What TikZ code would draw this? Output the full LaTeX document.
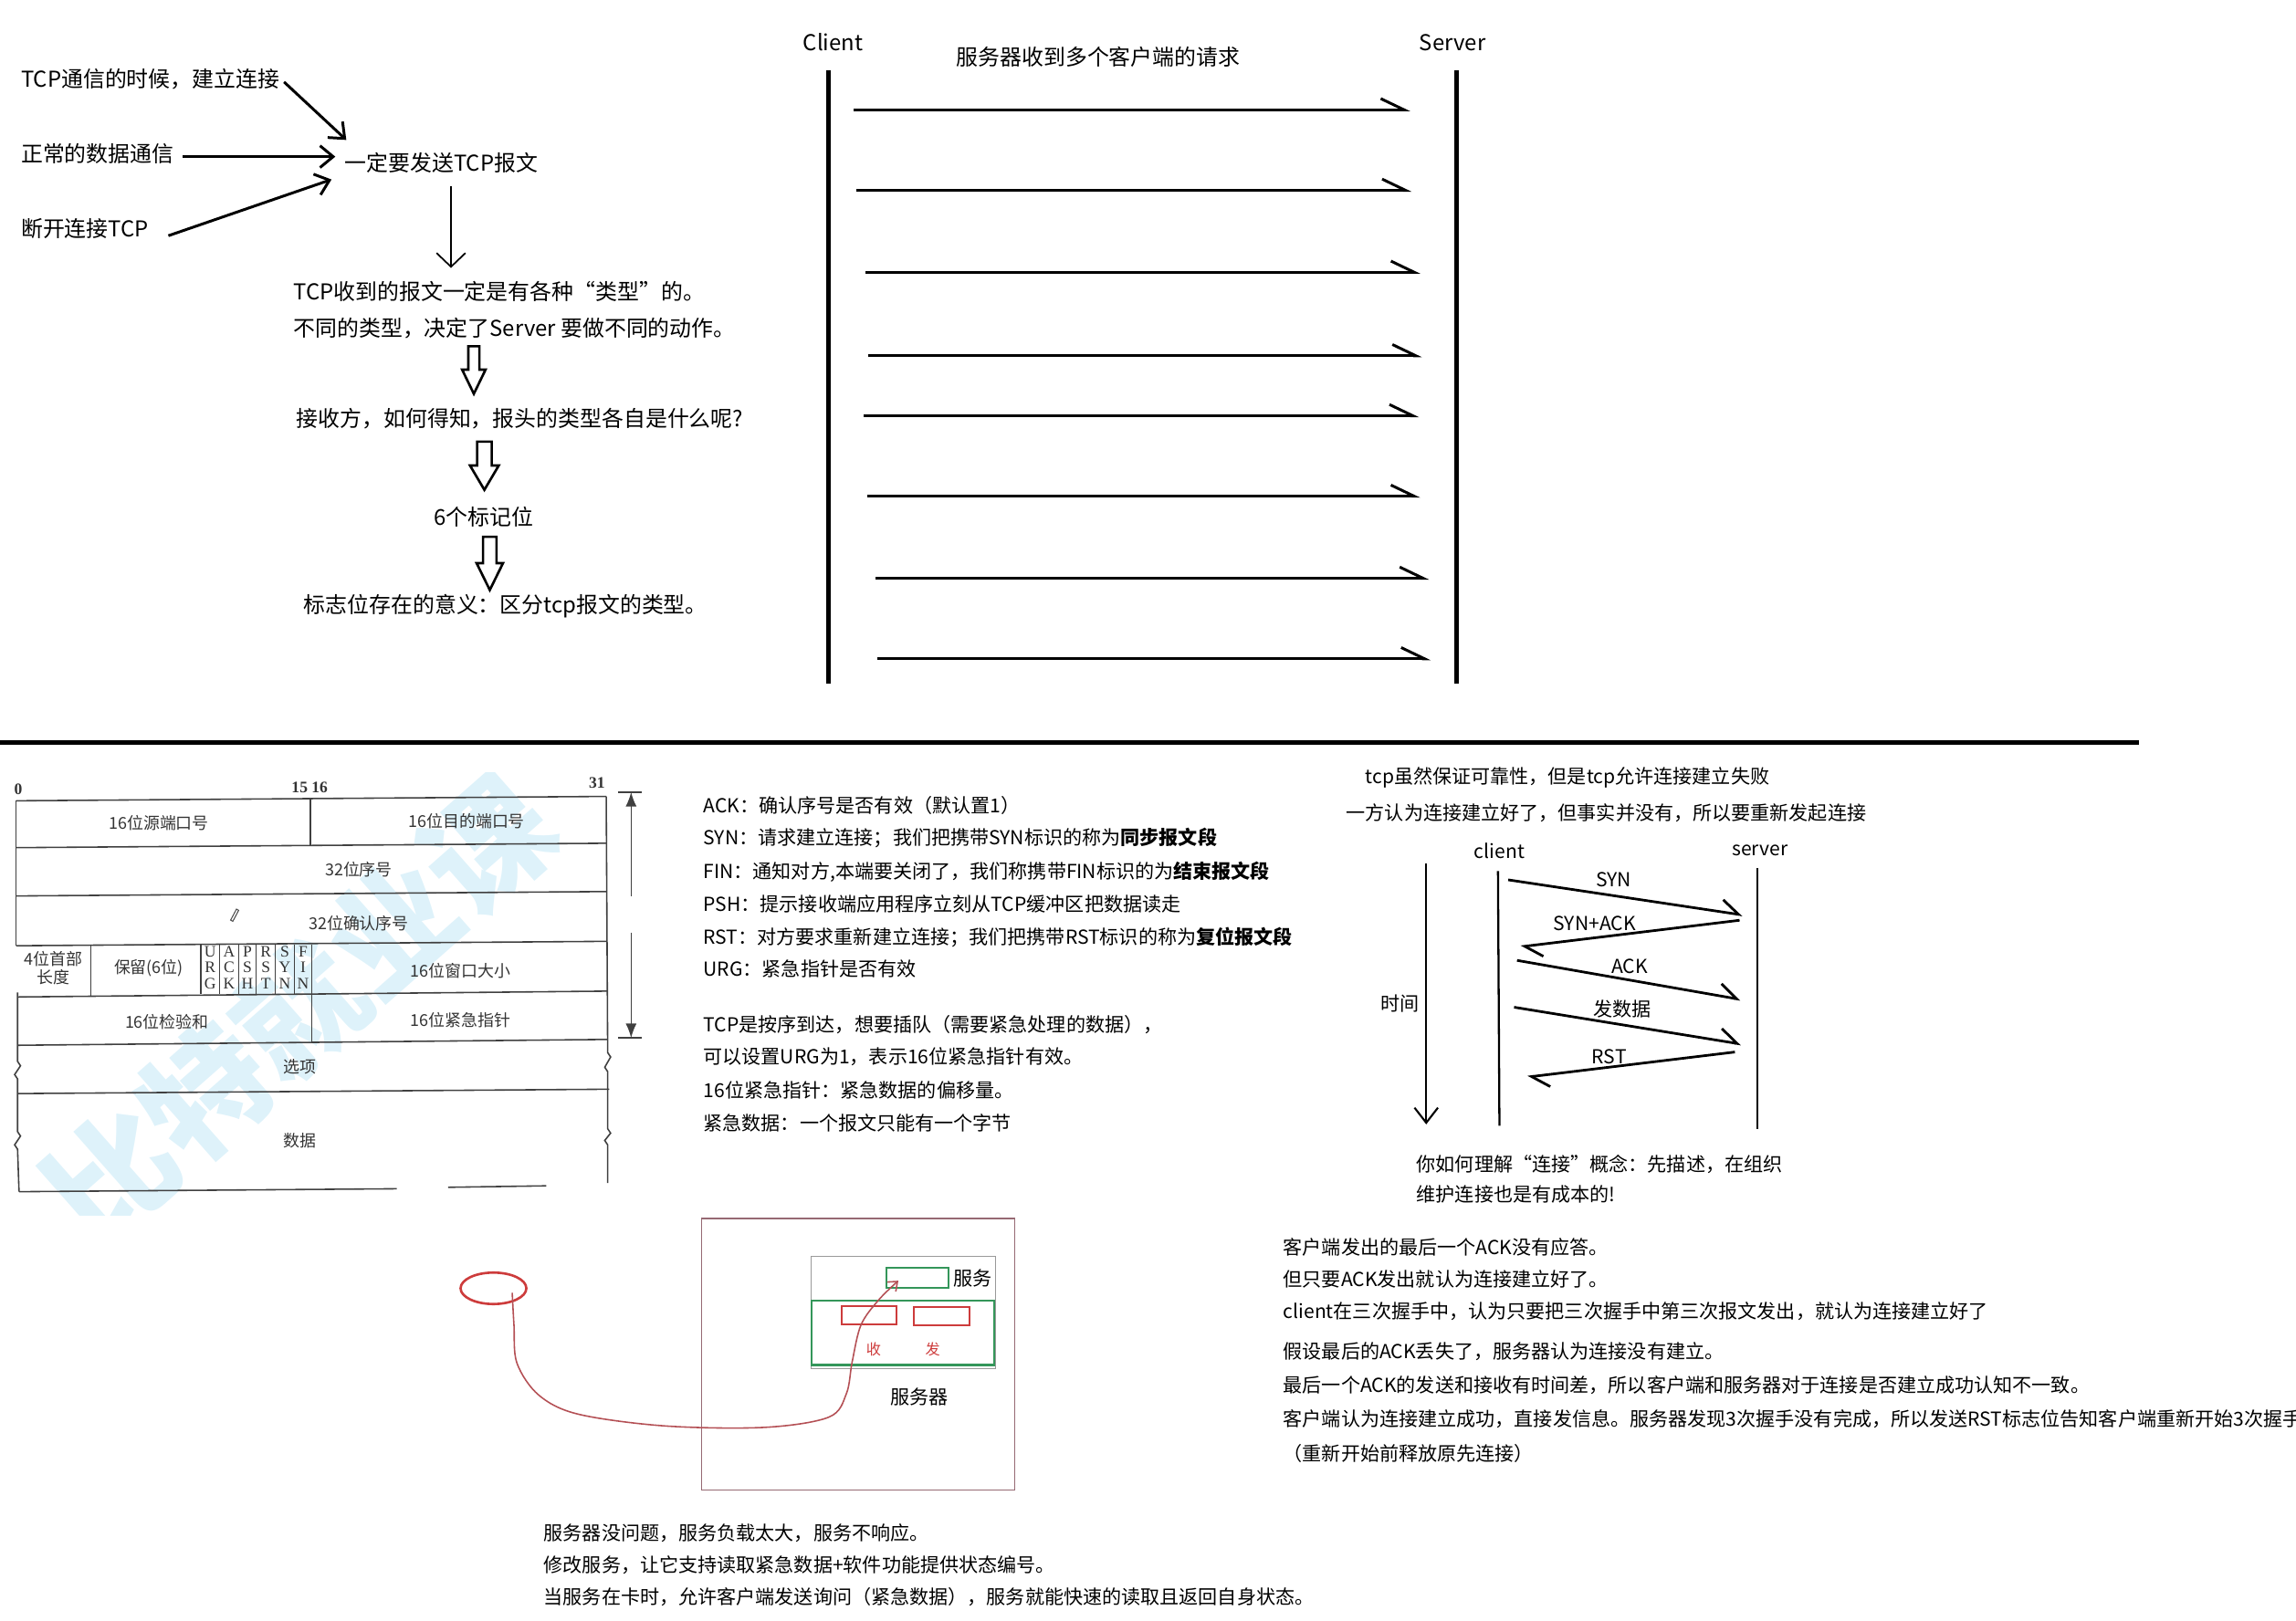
\documentclass[tikz,border=0pt]{standalone}
\usepackage{fontspec}
\setmainfont{Noto Sans CJK SC}
\newfontfamily\serifl{Liberation Serif}
\usetikzlibrary{arrows.meta,shapes.geometric}
\definecolor{wm}{RGB}{222,242,250}
\definecolor{gr}{RGB}{52,150,90}
\definecolor{rd}{RGB}{205,60,60}
\definecolor{crv}{RGB}{180,80,85}
\definecolor{boxc}{RGB}{150,105,115}
\begin{document}
\begin{tikzpicture}[x=0.01604cm,y=-0.01604cm,
  tA/.style={inner sep=0pt,anchor=west,font=\fontsize{6.8}{8}\selectfont},
  tB/.style={inner sep=0pt,anchor=west,font=\fontsize{6}{7}\selectfont},
  tbl/.style={inner sep=0pt,font=\fontsize{5.1}{6.2}\selectfont,text=black!80},
  flg/.style={inner sep=0pt,font=\serifl\fontsize{5}{5}\selectfont,text=black!80},
  tline/.style={line width=0.45pt,draw=black!75},
  bigarr/.style={line width=0.85pt,-{Straight Barb[length=4.1pt,width=6.8pt]}},
  seqarr/.style={line width=0.85pt,-{Straight Barb[left,length=7.3pt,width=7pt]}},
  hsarr/.style={line width=0.8pt,-{Straight Barb[left,length=5.4pt,width=7.6pt]}},
  hol/.style={line width=0.75pt,line join=miter}]
\useasboundingbox (0,0) rectangle (1568,1107);

% ---------------- top left flow ----------------
\node[tA] (n1) at (14,54) {TCP通信的时候，建立连接};
\node[tA] (n2) at (14,105) {正常的数据通信};
\node[tA] (n3) at (14,156) {断开连接TCP};
\node[tA] (n4) at (235,111) {一定要发送TCP报文};
\coordinate (a1s) at (194,56);  \coordinate (a1e) at (236.5,95.6);
\coordinate (a2s) at (125,107); \coordinate (a2e) at (229,107);
\coordinate (a3s) at (115,161); \coordinate (a3e) at (226.4,122.6);
\draw[bigarr] (a1s) -- (a1e);
\draw[bigarr] (a2s) -- (a2e);
\draw[bigarr] (a3s) -- (a3e);
\coordinate (d1s) at (308,127); \coordinate (d1e) at (308,183);
\draw[line width=0.5pt,-{Straight Barb[length=4.3pt,width=9pt]}] (d1s) -- (d1e);
\node[tA] (n5) at (200,199) {TCP收到的报文一定是有各种“类型”的。};
\node[tA] (n6) at (200,224) {不同的类型，决定了Server 要做不同的动作。};
\node[tA] (n7) at (202,286) {接收方，如何得知，报头的类型各自是什么呢?};
\node[tA] (n8) at (296,353) {6个标记位};
\node[tA] (n9) at (207,414) {标志位存在的意义：区分tcp报文的类型。};
\draw[hol] (319.8,236.5) -- (319.8,252.5) -- (315.6,252.5) -- (323.6,269) -- (331.6,252.5) -- (327.4,252.5) -- (327.4,236.5) -- cycle;
\draw[hol] (325.8,301.7) -- (325.8,318) -- (321,318) -- (330.8,334.6) -- (340.6,318) -- (335.8,318) -- (335.8,301.7) -- cycle;
\draw[hol] (329.9,366.7) -- (329.9,384.7) -- (325.5,384.7) -- (334.5,403) -- (343.5,384.7) -- (339.1,384.7) -- (339.1,366.7) -- cycle;

% ---------------- top middle sequence ----------------
\node[tA,anchor=center] (cl) at (569,29) {Client};
\node[tA,anchor=center] (sv) at (992,29) {Server};
\node[tA,anchor=center] (ttl) at (750,39) {服务器收到多个客户端的请求};
\coordinate (clt) at (566,48); \coordinate (clb) at (566,467);
\coordinate (svt) at (995,48); \coordinate (svb) at (995,467);
\draw[line width=1.4pt] (clt) -- (clb);
\draw[line width=1.4pt] (svt) -- (svb);
\foreach \i/\xa/\xb/\yy in {1/583/963/75,2/585/964/130,3/591/970/186,4/593/971/243,5/590/969/284,6/592/970/339,7/598/976/395,8/599/977/450}{
  \coordinate (q\i s) at (\xa,\yy);
  \coordinate (q\i e) at (\xb,\yy);
  \draw[seqarr] (q\i s) -- (q\i e);
}

% separator
\coordinate (sepL) at (0,507); \coordinate (sepR) at (1461,507);
\draw[line width=1.35pt] (sepL) -- (sepR);

% ---------------- TCP header table ----------------
\begin{scope}
\clip (0,528) rectangle (440,830);
\node[wm,font=\bfseries\fontsize{39}{39}\selectfont,rotate=41.4,inner sep=0pt] (wmk) at (204.5,690) {比特就业课};
\end{scope}
\node[flg,font=\serifl\bfseries\fontsize{5}{5}\selectfont] (c0) at (12.5,539.3) {0};
\node[flg,font=\serifl\bfseries\fontsize{5}{5}\selectfont] (c15) at (211.5,538) {15 16};
\node[flg,font=\serifl\bfseries\fontsize{5}{5}\selectfont] (c31) at (407.7,534.5) {31};
\draw[tline] (11,547) -- (414,544);
\draw[tline] (11,579) -- (414,576);
\draw[tline] (11,612) -- (414,609);
\draw[tline] (11,646) -- (414,643);
\draw[tline] (12,681) -- (415,677);
\draw[tline] (12,714) -- (415,710);
\draw[tline] (12,747) -- (416,744);
\draw[tline] (13,814) -- (271,812);
\draw[tline] (306,811) -- (373,810);
\draw[tline] (11,547) -- (11,646);
\draw[tline] (12,678) -- (12,725) -- (14,728) -- (10,734) -- (12,737) -- (12,773) -- (14,776) -- (10,782) -- (12,785) -- (13,814);
\draw[tline] (414,544) -- (415,719) -- (417,722) -- (413,729) -- (415,732) -- (415,771) -- (417,774) -- (413,779) -- (415,782) -- (415,808);
\draw[tline] (212,546) -- (212,578);
\draw[tline] (62,645) -- (62,680);
\foreach \x in {137,150,163,175,188,201,213} \draw[tline] (\x,645) -- (\x,679);
\draw[tline] (213,679) -- (213,712);
\node[tbl] (f1) at (108.5,562) {16位源端口号};
\node[tbl] (f2) at (318.7,561) {16位目的端口号};
\node[tbl] (f3) at (245,594) {32位序号};
\node[tbl] (f4) at (245,630.5) {32位确认序号};
\node[tbl] (f5a) at (36.2,655.3) {4位首部};
\node[tbl] (f5b) at (36.2,667.7) {长度};
\node[tbl] (f6) at (101.6,661.3) {保留(6位)};
\node[tbl] (f7) at (314.5,663) {16位窗口大小};
\node[tbl] (f8) at (114,698) {16位检验和};
\node[tbl] (f9) at (314.5,697) {16位紧急指针};
\node[tbl] (f10) at (204.6,728.4) {选项};
\node[tbl] (f11) at (204.6,779.3) {数据};
\foreach \x/\a/\b/\c [count=\k] in {143.6/U/R/G,156.5/A/C/K,169/P/S/H,181.6/R/S/T,194.5/S/Y/N,207/F/I/N}{
  \node[flg] (fa\k) at (\x,650) {\a};
  \node[flg] (fb\k) at (\x,661) {\b};
  \node[flg] (fc\k) at (\x,672) {\c};
}
\draw[line width=0.3pt,black!70] (157.5,628.5) -- (161.5,621) -- (163,621.8) -- (159,629.3) -- cycle;
\coordinate (dt) at (431,541); \coordinate (dtm) at (431,612);
\coordinate (db) at (431,709); \coordinate (dbm) at (431,637);
\draw[tline] (422,541) -- (438,541);
\draw[tline] (422,709) -- (438,709);
\draw[tline,-{Latex[length=4.5pt,width=3.4pt]}] (dtm) -- (dt);
\draw[tline,-{Latex[length=4.5pt,width=3.4pt]}] (dbm) -- (db);

% ---------------- flag explanations ----------------
\node[tB] (e1) at (480,550) {ACK：确认序号是否有效（默认置1）};
\node[tB] (e2) at (480,572.5) {SYN：请求建立连接；我们把携带SYN标识的称为\textbf{同步报文段}};
\node[tB] (e3) at (480,595.4) {FIN：通知对方,本端要关闭了，我们称携带FIN标识的为\textbf{结束报文段}};
\node[tB] (e4) at (480,617.5) {PSH：提示接收端应用程序立刻从TCP缓冲区把数据读走};
\node[tB] (e5) at (480,640) {RST：对方要求重新建立连接；我们把携带RST标识的称为\textbf{复位报文段}};
\node[tB] (e6) at (480,662) {URG：紧急指针是否有效};
\node[tB] (e7) at (480,700) {TCP是按序到达，想要插队（需要紧急处理的数据），};
\node[tB] (e8) at (480,722) {可以设置URG为1，表示16位紧急指针有效。};
\node[tB] (e9) at (480,744.5) {16位紧急指针：紧急数据的偏移量。};
\node[tB] (e10) at (480,767) {紧急数据：一个报文只能有一个字节};

% ---------------- handshake ----------------
\node[tB] (h1) at (932,531) {tcp虽然保证可靠性，但是tcp允许连接建立失败};
\node[tB] (h2) at (919,555) {一方认为连接建立好了，但事实并没有，所以要重新发起连接};
\node[tB,anchor=center] (hc) at (1024,581) {client};
\node[tB,anchor=center] (hsv) at (1202,581) {server};
\coordinate (tt) at (974,590); \coordinate (tb) at (974,768);
\draw[line width=0.6pt,-{Straight Barb[length=4.7pt,width=7.3pt]}] (tt) -- (tb);
\node[tB,anchor=center] (tm) at (956,685.5) {时间};
\coordinate (hct) at (1023,595); \coordinate (hcb) at (1024,769);
\coordinate (hst) at (1200,593); \coordinate (hsb) at (1200,771);
\draw[line width=0.65pt] (hct) -- (hcb);
\draw[line width=0.65pt] (hst) -- (hsb);
\coordinate (m1s) at (1030,601);   \coordinate (m1e) at (1190,625);
\coordinate (m2s) at (1188,628.6); \coordinate (m2e) at (1038.5,646.7);
\coordinate (m3s) at (1036,656);   \coordinate (m3e) at (1188.6,682.7);
\coordinate (m4s) at (1034,688);   \coordinate (m4e) at (1189,713.2);
\coordinate (m5s) at (1184.8,718.6); \coordinate (m5e) at (1043.2,735.7);
\draw[hsarr] (m1s) -- (m1e);
\draw[hsarr] (m2s) -- (m2e);
\draw[hsarr] (m3s) -- (m3e);
\draw[hsarr] (m4s) -- (m4e);
\draw[hsarr] (m5s) -- (m5e);
\node[tB,anchor=center] (l1) at (1102,601) {SYN};
\node[tB,anchor=center] (l2) at (1089,631) {SYN+ACK};
\node[tB,anchor=center] (l3) at (1113,660) {ACK};
\node[tB,anchor=center] (l4) at (1108,689.5) {发数据};
\node[tB,anchor=center] (l5) at (1099,722) {RST};
\node[tB] (h3) at (967,795) {你如何理解“连接”概念：先描述，在组织};
\node[tB] (h4) at (967,816) {维护连接也是有成本的!};

% ---------------- bottom right notes ----------------
\node[tB] (r1) at (876,852) {客户端发出的最后一个ACK没有应答。};
\node[tB] (r2) at (876,874) {但只要ACK发出就认为连接建立好了。};
\node[tB] (r3) at (876,896) {client在三次握手中，认为只要把三次握手中第三次报文发出，就认为连接建立好了};
\node[tB] (r4) at (876,923) {假设最后的ACK丢失了，服务器认为连接没有建立。};
\node[tB] (r5) at (876,946) {最后一个ACK的发送和接收有时间差，所以客户端和服务器对于连接是否建立成功认知不一致。};
\node[tB] (r6) at (876,969) {客户端认为连接建立成功，直接发信息。服务器发现3次握手没有完成，所以发送RST标志位告知客户端重新开始3次握手};
\node[tB] (r7) at (876,993) {（重新开始前释放原先连接）};

% ---------------- server sketch ----------------
\node[draw=boxc,line width=0.4pt,minimum width=97.5pt,minimum height=84.7pt,inner sep=0pt] (srv) at (586,925) {};
\node[draw=black!40,line width=0.4pt,minimum width=57.4pt,minimum height=35pt,inner sep=0pt] (inner) at (617,896.5) {};
\node[draw=gr,line width=0.7pt,minimum width=56.9pt,minimum height=20pt,inner sep=0pt] (grb) at (616.5,910.5) {};
\node[draw=gr,line width=0.6pt,minimum width=19.4pt,minimum height=6.1pt,inner sep=0pt] (svc) at (626.5,872.8) {};
\node[tB] (svcl) at (651,873) {服务};
\node[draw=rd,line width=0.6pt,minimum width=17.1pt,minimum height=5.7pt,inner sep=0pt] (rx) at (593.5,898.3) {};
\node[draw=rd,line width=0.6pt,minimum width=17.3pt,minimum height=5.5pt,inner sep=0pt] (tx) at (643,899) {};
\node[inner sep=0pt,font=\fontsize{4.6}{5}\selectfont,text=rd] (rxl) at (596.6,921.5) {收};
\node[inner sep=0pt,font=\fontsize{4.6}{5}\selectfont,text=rd] (txl) at (637,921.5) {发};
\node[inner sep=0pt,font=\fontsize{6}{7}\selectfont] (srvl) at (627.8,954.3) {服务器};
\node[draw=rd,ellipse,line width=0.75pt,minimum width=20.5pt,minimum height=9.8pt,inner sep=0pt] (ell) at (337,880) {};
\draw[crv,line width=0.45pt,-{Straight Barb[length=2.5pt,width=4pt]}] plot[smooth,tension=0.55] coordinates {(349.8,883) (351,905) (353,931) (368,953) (395,966) (454,974) (522,975) (566,968) (578,952) (582,930) (588,905) (600,888) (613.5,874.8)};

% ---------------- bottom middle notes ----------------
\node[tB] (b1) at (371,1047) {服务器没问题，服务负载太大，服务不响应。};
\node[tB] (b2) at (371,1069) {修改服务，让它支持读取紧急数据+软件功能提供状态编号。};
\node[tB] (b3) at (371,1091) {当服务在卡时，允许客户端发送询问（紧急数据），服务就能快速的读取且返回自身状态。};
\end{tikzpicture}
\end{document}
